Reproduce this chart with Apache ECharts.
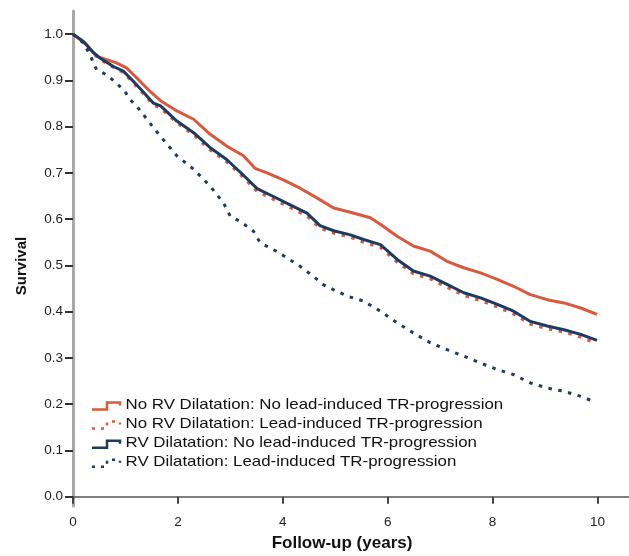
<!DOCTYPE html>
<html>
<head>
<meta charset="utf-8">
<script src="https://cdn.jsdelivr.net/npm/echarts@6/dist/echarts.min.js"></script>
<style>html,body{margin:0;padding:0;background:#fff}#c{width:629px;height:556px}</style>
</head>
<body>
<div id="c"></div>
<script>
// ---- Data ----
const seriesNames = [
  'No RV Dilatation: No lead-induced TR-progression',
  'No RV Dilatation: Lead-induced TR-progression',
  'RV Dilatation: No lead-induced TR-progression',
  'RV Dilatation: Lead-induced TR-progression'
];
const xTicks = [0, 2, 4, 6, 8, 10];
const yTicks = [0, 0.1, 0.2, 0.3, 0.4, 0.5, 0.6, 0.7, 0.8, 0.9, 1.0];

const noRvNoTrX = [0,0.26,0.45,0.64,0.83,1.02,1.22,1.47,1.67,1.98,2.30,2.61,2.93,3.25,3.47,3.70,4.01,4.33,4.65,4.97,5.29,5.67,5.86,6.18,6.49,6.81,7.13,7.45,7.77,8.09,8.40,8.72,9.04,9.36,9.68,9.99];
const noRvNoTrY = [1.0,0.977,0.952,0.945,0.938,0.927,0.905,0.876,0.856,0.834,0.816,0.784,0.758,0.737,0.710,0.700,0.685,0.667,0.646,0.624,0.615,0.603,0.589,0.563,0.542,0.531,0.509,0.495,0.484,0.470,0.455,0.437,0.426,0.419,0.408,0.394];

const noRvTrX = [0,0.20,0.39,0.52,0.77,0.96,1.15,1.34,1.53,1.67,1.98,2.30,2.61,2.93,3.25,3.51,3.82,4.14,4.46,4.71,4.97,5.29,5.54,5.86,6.18,6.49,6.81,7.13,7.45,7.77,8.09,8.40,8.72,9.04,9.36,9.68,9.97];
const noRvTrY = [1.0,0.982,0.957,0.945,0.928,0.917,0.894,0.871,0.847,0.840,0.808,0.782,0.750,0.724,0.690,0.660,0.643,0.625,0.607,0.580,0.570,0.561,0.550,0.539,0.507,0.482,0.471,0.453,0.435,0.424,0.410,0.395,0.373,0.363,0.356,0.345,0.332];

const rvNoTrX = [0,0.20,0.39,0.52,0.77,0.96,1.15,1.34,1.53,1.67,1.98,2.30,2.61,2.93,3.25,3.51,3.82,4.14,4.46,4.71,4.97,5.29,5.54,5.86,6.18,6.49,6.81,7.13,7.45,7.77,8.09,8.40,8.72,9.04,9.36,9.68,9.99];
const rvNoTrY = [1.0,0.984,0.960,0.948,0.930,0.920,0.898,0.875,0.851,0.845,0.812,0.787,0.755,0.729,0.695,0.666,0.649,0.631,0.613,0.586,0.575,0.566,0.556,0.545,0.513,0.488,0.477,0.459,0.441,0.430,0.416,0.401,0.379,0.369,0.361,0.351,0.338];

const rvTrX = [0,0.20,0.32,0.45,0.64,0.83,0.99,1.09,1.21,1.41,1.66,1.98,2.30,2.61,2.87,3.00,3.19,3.44,3.57,3.89,4.14,4.33,4.59,4.78,5.03,5.25,5.54,5.86,6.18,6.49,6.81,7.13,7.45,7.77,8.09,8.40,8.72,9.04,9.36,9.68,9.93];
const rvTrY = [1.0,0.981,0.956,0.923,0.912,0.894,0.876,0.858,0.845,0.816,0.780,0.737,0.708,0.672,0.635,0.606,0.595,0.574,0.549,0.530,0.512,0.498,0.476,0.458,0.444,0.433,0.423,0.401,0.376,0.354,0.333,0.318,0.304,0.289,0.275,0.264,0.246,0.235,0.228,0.217,0.206];

// ---- Styling ----
const RED = '#d75a3e';
const NAVY = '#1d3a60';
const FONT = "'Liberation Sans', Arial, Helvetica, sans-serif";
const DOT = [3.5, 6.5];

function pairs(xs, ys) { return xs.map((x, i) => [x, ys[i]]); }

const chart = echarts.init(document.getElementById('c'), null, { renderer: 'canvas' });

const seriesDefs = [
  { name: seriesNames[0], data: pairs(noRvNoTrX, noRvNoTrY), color: RED, dash: 'solid', z: 4 },
  { name: seriesNames[1], data: pairs(noRvTrX, noRvTrY), color: RED, dash: DOT, z: 3 },
  { name: seriesNames[2], data: pairs(rvNoTrX, rvNoTrY), color: NAVY, dash: 'solid', z: 5 },
  { name: seriesNames[3], data: pairs(rvTrX, rvTrY), color: NAVY, dash: DOT, z: 6 }
];

// legend drawn as graphics (step-shaped icons like the reference)
const legendGraphics = [];
const legX = 92, legY0 = 409.5, legStep = 19.1;
seriesDefs.forEach((s, i) => {
  const y = legY0 + i * legStep;
  legendGraphics.push({
    type: 'polyline', silent: true,
    shape: { points: [[legX, y], [legX + 15, y], [legX + 15, y - 7], [legX + 28, y - 7], [legX + 28, y - 4]] },
    style: { stroke: s.color, lineWidth: 2.5, fill: null, lineDash: s.dash === 'solid' ? null : [3, 6] }
  });
  legendGraphics.push({
    type: 'text', silent: true, x: 125.5, y: y - 4.5, scaleX: 1.125, scaleY: 1,
    style: { text: s.name, font: '15px ' + FONT, fill: '#111', align: 'left', verticalAlign: 'middle' }
  });
});

const option = {
  animation: false,
  backgroundColor: '#fff',
  grid: { left: 73, right: 0, top: 11, bottom: 50, containLabel: false },
  xAxis: {
    type: 'value', min: 0, max: 10.6,
    axisLine: { show: true, onZero: true, lineStyle: { color: '#555', width: 1.5 } },
    axisTick: { show: true, customValues: xTicks, length: 7, lineStyle: { color: '#444', width: 2 } },
    axisLabel: { customValues: xTicks, margin: 9, color: '#222', fontSize: 13.5, fontFamily: FONT },
    splitLine: { show: false }
  },
  yAxis: {
    type: 'value', min: -0.02, max: 1.05,
    axisLine: { show: true, lineStyle: { color: '#a8a8a8', width: 3 } },
    axisTick: { show: true, customValues: yTicks, length: 8, lineStyle: { color: '#333', width: 2 } },
    axisLabel: { customValues: yTicks, margin: 10, color: '#222', fontSize: 13.5, fontFamily: FONT,
      formatter: v => v.toFixed(1) },
    splitLine: { show: false }
  },
  series: seriesDefs.map(s => ({
    type: 'line', name: s.name, data: s.data, showSymbol: false, symbol: 'none',
    z: s.z, clip: false,
    lineStyle: { color: s.color, width: 3, type: s.dash, cap: 'butt' },
    itemStyle: { color: s.color }
  })),
  graphic: [
    { type: 'text', silent: true, x: 22, y: 266, rotation: Math.PI / 2,
      style: { text: 'Survival', font: 'bold 15px ' + FONT, fill: '#111', align: 'center', verticalAlign: 'middle' } },
    { type: 'text', silent: true, x: 342, y: 543,
      style: { text: 'Follow-up (years)', font: 'bold 17px ' + FONT, fill: '#111', align: 'center', verticalAlign: 'middle' } }
  ].concat(legendGraphics)
};
chart.setOption(option);
</script>
</body>
</html>
